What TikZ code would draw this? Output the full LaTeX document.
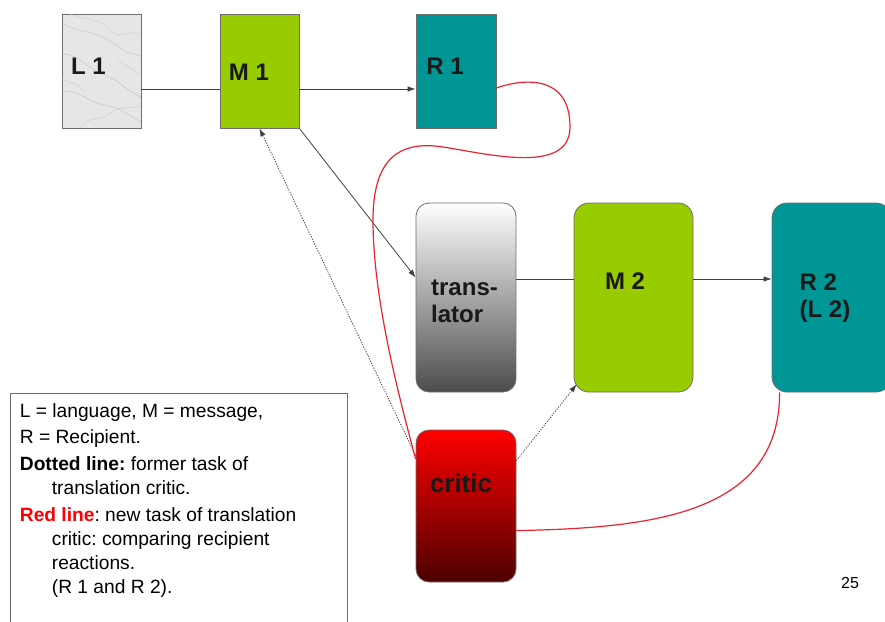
\documentclass[tikz,border=0pt]{standalone}
\usepackage{fontspec}
\setmainfont{Liberation Sans}
\usetikzlibrary{arrows.meta,positioning}

\definecolor{leaf}{RGB}{153,204,0}
\definecolor{sea}{RGB}{0,150,150}
\definecolor{marble}{RGB}{230,230,232}
\definecolor{frame}{RGB}{110,110,110}
\definecolor{redline}{RGB}{232,36,48}

\tikzset{
  sqbox/.style={draw=frame, line width=0.8pt, minimum width=79, minimum height=114, inner sep=0},
  rbox/.style={draw=frame, line width=0.8pt, rounded corners=13, inner sep=0},
  lbl/.style={font=\fontsize{24}{27}\selectfont\bfseries, align=left, inner sep=0, text=black!90},
  flow/.style={draw=black!75, line width=0.8pt},
  tip/.style={-{Latex[length=8pt,width=5.5pt]}},
  former/.style={flow, dash pattern=on 1.2pt off 1.4pt},
  newtask/.style={draw=redline, line width=1.2pt},
  vein/.style={draw=gray!55, line width=0.6pt, opacity=0.6}
}

\begin{document}
\begin{tikzpicture}[x=1pt,y=-1pt]
  \useasboundingbox (0,0) rectangle (885,621);

  % first round
  \node[sqbox, fill=marble] (l1) at (101.5,71) {};
  \begin{scope}
    \clip ([shift={(0.5,-0.5)}]l1.south west) rectangle ([shift={(-0.5,0.5)}]l1.north east);
    \draw[vein] (60,22) .. controls (80,35) and (95,28) .. (120,48) .. controls (130,56) and (138,52) .. (145,60);
    \draw[vein] (60,55) .. controls (75,50) and (88,70) .. (105,75) .. controls (120,80) and (130,95) .. (145,98);
    \draw[vein, gray!40] (70,14) .. controls (85,20) and (100,18) .. (110,30) .. controls (118,40) and (128,30) .. (145,34);
    \draw[vein] (60,92) .. controls (78,88) and (90,104) .. (108,106) .. controls (122,108) and (132,118) .. (145,124);
    \draw[vein, gray!45] (80,128) .. controls (90,115) and (100,122) .. (112,112) .. controls (120,105) and (135,110) .. (145,104);
    \draw[vein, gray!35, line width=1.2pt] (62,78) .. controls (70,84) and (78,82) .. (84,92);
    \draw[vein, gray!35, line width=1.2pt] (118,60) .. controls (124,66) and (130,66) .. (138,74);
  \end{scope}
  \node[sqbox, fill=leaf] (m1) at (259.5,71) {};
  \node[sqbox, fill=sea, minimum width=80] (r1) at (456,71) {};
  \node[lbl] (l1t) at (88.5,66) {L 1};
  \node[lbl] (m1t) at (249,72.5) {M 1};
  \node[lbl] (r1t) at (445,66.5) {R 1};

  % second round
  \node[rbox, minimum width=100, minimum height=189, top color=white, middle color=gray!25, bottom color=black!70] (tr) at (466,297.5) {};
  \node[rbox, fill=leaf, rounded corners=15, minimum width=119, minimum height=189] (m2) at (633.5,297.5) {};
  \node[rbox, fill=sea, rounded corners=15, minimum width=119, minimum height=189] (r2) at (831.5,297.5) {};
  \node[rbox, minimum width=100, minimum height=152, top color=red, middle color=red!92!black, bottom color=red!30!black] (critic) at (466,506) {};
  \node[lbl] (trt) at (464.5,301) {trans-\\lator};
  \node[lbl] (m2t) at (625,281) {M 2};
  \node[lbl] (r2t) at (825,298) {R 2\\(L 2)};
  \node[lbl, font=\fontsize{26}{28}\selectfont\bfseries] (critict) at (461,483) {critic};

  % connectors
  \draw[flow] ([yshift=-18]l1.east) -- ([yshift=-18]m1.west);
  \draw[flow, tip] ([yshift=-18]m1.east) -- ([yshift=-18]r1.west);
  \draw[flow, tip] (m1.south east) -- ([yshift=20]tr.west);
  \draw[flow] ([yshift=18.5]tr.east) -- ([yshift=18.5]m2.west);
  \draw[flow, tip] ([yshift=18.5]m2.east) -- ([yshift=18.5]r2.west);

  % dotted: the old job
  \draw[former, tip] (critic.135) -- (m1.south);
  \draw[former, tip] (critic.42) -- ([shift={(3,-8)}]m2.south west);

  % red: the new job
  \draw[newtask] ([yshift=-17]r1.east) .. controls (525,78) and (570,75) .. (570,127)
    .. controls (570,175) and (488,154) .. (443,147)
    .. controls (398,140) and (373,160) .. (373,220)
    .. controls (373,300) and (400,400) .. (critic.137);
  \draw[newtask] (critic.-26) .. controls (650,528) and (780,515) .. ([xshift=8]r2.south west);

  % key
  \node[draw=frame, line width=0.8pt, anchor=north west, inner xsep=9.5pt, inner ysep=10pt] (key) at (10,393)
    {\parbox[t][236pt][t]{318pt}{\fontsize{19.2}{24}\selectfont\frenchspacing
      L = language, M = message,\\[2.5pt]
      R = Recipient.\\[3pt]
      \textbf{Dotted line:} former task of\\
      \hspace*{32pt}translation critic.\\[3pt]
      \textcolor{red}{\textbf{Red line}}: new task of translation\\
      \hspace*{32pt}critic: comparing recipient\\
      \hspace*{32pt}reactions.\\
      \hspace*{32pt}(R 1 and R 2).}};

  \node[font=\fontsize{16}{18}\selectfont] (page) at (850,583) {25};
\end{tikzpicture}
\end{document}
